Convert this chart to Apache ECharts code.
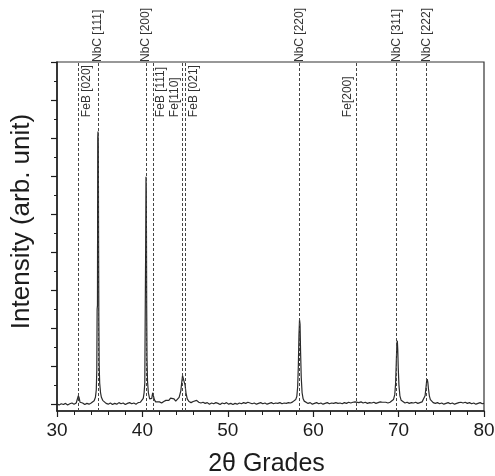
<!DOCTYPE html>
<html>
<head>
<meta charset="utf-8">
<script src="https://cdn.jsdelivr.net/npm/echarts@6/dist/echarts.min.js"></script>
<style>html,body{margin:0;padding:0;background:#fff;}#c{width:495px;height:476px;}</style>
</head>
<body>
<div id="c"></div>
<script>
// ---- data ----
const twoTheta = [
  30.0, 30.25, 30.5, 30.75, 31.0, 31.25, 31.5, 31.75, 32.0, 32.25,
  32.4, 32.5, 32.6, 32.7, 32.85, 33.0, 33.25, 33.5, 33.75, 34.0,
  34.2, 34.35, 34.5, 34.6, 34.66, 34.7, 34.74, 34.77, 34.8, 34.84,
  34.87, 34.9, 34.94, 35.0, 35.1, 35.2, 35.35, 35.5, 35.75, 36.0,
  36.25, 36.5, 36.75, 37.0, 37.25, 37.5, 37.75, 38.0, 38.25, 38.5,
  38.75, 39.0, 39.25, 39.5, 39.75, 39.95, 40.1, 40.2, 40.28, 40.34,
  40.38, 40.42, 40.46, 40.5, 40.54, 40.6, 40.7, 40.85, 41.0, 41.1,
  41.2, 41.28, 41.4, 41.55, 41.75, 42.0, 42.25, 42.5, 42.75, 42.9,
  43.1, 43.3, 43.5, 43.7, 43.9, 44.1, 44.3, 44.5, 44.62, 44.7,
  44.8, 44.9, 45.0, 45.1, 45.25, 45.45, 45.7, 45.95, 46.15, 46.35,
  46.6, 46.85, 47.1, 47.35, 47.6, 47.85, 48.1, 48.35, 48.6, 48.85,
  49.1, 49.35, 49.6, 49.85, 50.1, 50.35, 50.6, 50.85, 51.1, 51.35,
  51.6, 51.85, 52.1, 52.35, 52.6, 52.85, 53.1, 53.35, 53.6, 53.85,
  54.1, 54.35, 54.6, 54.85, 55.1, 55.35, 55.6, 55.85, 56.1, 56.35,
  56.6, 56.85, 57.1, 57.35, 57.6, 57.8, 57.95, 58.08, 58.18, 58.26,
  58.33, 58.4, 58.46, 58.52, 58.6, 58.7, 58.82, 58.95, 59.15, 59.4,
  59.65, 59.9, 60.15, 60.4, 60.65, 60.9, 61.15, 61.4, 61.65, 61.9,
  62.15, 62.4, 62.65, 62.9, 63.15, 63.4, 63.65, 63.9, 64.15, 64.4,
  64.65, 64.9, 65.1, 65.35, 65.6, 65.85, 66.1, 66.35, 66.6, 66.85,
  67.1, 67.35, 67.6, 67.85, 68.1, 68.3, 68.5, 68.75, 69.0, 69.2,
  69.4, 69.55, 69.65, 69.73, 69.8, 69.85, 69.9, 69.96, 70.04, 70.15,
  70.3, 70.5, 70.75, 71.0, 71.25, 71.5, 71.75, 72.0, 72.25, 72.5,
  72.75, 72.95, 73.1, 73.2, 73.28, 73.35, 73.42, 73.5, 73.6, 73.72,
  73.85, 74.05, 74.3, 74.55, 74.8, 75.05, 75.3, 75.55, 75.8, 76.05,
  76.3, 76.55, 76.8, 77.05, 77.3, 77.55, 77.8, 78.05, 78.3, 78.55,
  78.8, 79.05, 79.3, 79.55, 79.8, 80.0
];
const intensity = [
  0.00, -0.02, 0.01, -0.01, 0.02, -0.02, 0.01, 0.03, 0.00, 0.03,
  0.06, 0.22, 0.16, 0.05, 0.01, 0.03, -0.01, 0.02, 0.00, 0.03,
  0.05, 0.09, 0.18, 0.38, 0.9, 2.5, 2.6, 7.0, 7.17, 6.8,
  4.2, 2.2, 1.0, 0.55, 0.3, 0.18, 0.1, 0.05, 0.02, 0.0,
  0.03, -0.01, 0.02, 0.0, 0.04, 0.01, 0.03, -0.01, 0.02, 0.04,
  0.01, 0.03, 0.0, 0.04, 0.05, 0.08, 0.15, 0.3, 0.55, 2.7,
  4.0, 5.98, 5.6, 2.6, 1.2, 0.6, 0.3, 0.14, 0.1, 0.15,
  0.3, 0.26, 0.12, 0.06, 0.04, 0.06, 0.03, 0.07, 0.1, 0.07,
  0.1, 0.16, 0.18, 0.14, 0.08, 0.1, 0.18, 0.35, 0.6, 0.75,
  0.72, 0.58, 0.5, 0.3, 0.14, 0.07, 0.04, 0.07, 0.12, 0.1,
  0.05, 0.03, 0.05, 0.02, 0.04, 0.0, 0.03, 0.01, 0.04, 0.02,
  -0.01, 0.03, 0.01, 0.04, 0.0, 0.02, -0.01, 0.02, 0.0, 0.03,
  0.01, 0.04, 0.02, 0.05, 0.03, 0.01, 0.03, 0.0, 0.02, 0.04,
  0.01, 0.03, 0.0, 0.02, 0.04, 0.01, 0.03, 0.02, 0.04, 0.01,
  0.03, 0.02, 0.04, 0.03, 0.06, 0.08, 0.12, 0.2, 0.45, 1.0,
  1.8, 2.22, 2.1, 1.4, 0.7, 0.3, 0.14, 0.08, 0.05, 0.02,
  0.04, 0.0, 0.02, 0.04, 0.01, 0.03, 0.0, 0.02, 0.04, 0.01,
  0.03, 0.02, 0.04, 0.02, 0.03, 0.01, 0.04, 0.02, 0.05, 0.03,
  0.05, 0.06, 0.07, 0.04, 0.06, 0.03, 0.05, 0.02, 0.04, 0.03,
  0.05, 0.02, 0.04, 0.06, 0.05, 0.08, 0.05, 0.03, 0.05, 0.07,
  0.12, 0.25, 0.55, 1.1, 1.6, 1.67, 1.45, 0.95, 0.5, 0.22,
  0.1, 0.05, 0.03, 0.05, 0.02, 0.04, 0.03, 0.05, 0.02, 0.04,
  0.06, 0.1, 0.22, 0.42, 0.6, 0.66, 0.58, 0.4, 0.22, 0.12,
  0.07, 0.04, 0.02, 0.04, 0.01, 0.03, 0.0, 0.02, 0.04, 0.01,
  0.03, 0.0, 0.02, 0.04, 0.05, 0.03, 0.05, 0.02, 0.04, 0.01,
  0.03, 0.0, 0.02, 0.04, 0.01, 0.02
];
// NbC reflections (labels above the frame)
const nbcPositions = [34.8, 40.44, 58.39, 69.77, 73.27];
const nbcLabels = ['NbC [111]', 'NbC [200]', 'NbC [220]', 'NbC [311]', 'NbC [222]'];
// Fe / FeB reflections (labels inside the frame)
const phasePositions = [32.5, 41.26, 44.72, 45.03, 65.01];
const phaseLabels = ['FeB [020]', 'FeB [111]', 'Fe[110]', 'FeB [021]', 'Fe[200]'];
const phaseSides = ['right', 'right', 'left', 'right', 'left'];
// axes
const xMin = 30, xMax = 80, xStep = 10;
const yMin = -0.18, yMax = 9;
const yMajorTicks = [0, 1, 2, 3, 4, 5, 6, 7, 8, 9];
const yMinorTicks = [0.5, 1.5, 2.5, 3.5, 4.5, 5.5, 6.5, 7.5, 8.5];
const labelBase = 7.55;

const FONT = '"Liberation Sans", Arial, Helvetica, sans-serif';
const INK = '#1c1c1c';

const scan = twoTheta.map((x, i) => [x, intensity[i]]);
const allRefs = nbcPositions.concat(phasePositions);

const refLineItems = allRefs.map(v => ({xAxis: v}));
const labelItems = phasePositions.map((v, i) => [
  {coord: [v, labelBase], name: phaseLabels[i],
   lineStyle: {color: 'rgba(0,0,0,0)', opacity: 1},
   label: {show: true, formatter: '{b}', opacity: 1,
           position: phaseSides[i] === 'right' ? 'insideStartBottom' : 'insideStartTop',
           distance: [0, 2], fontFamily: FONT, fontSize: 12, color: '#333'}},
  {coord: [v, yMax]}
]);

const chart = echarts.init(document.getElementById('c'), null, {renderer: 'canvas'});
chart.setOption({
  animation: false,
  backgroundColor: '#fff',
  grid: {left: 57, right: 11, top: 62, bottom: 65, outerBoundsMode: 'none', containLabel: false,
         show: true, borderColor: '#333', borderWidth: 1.2, backgroundColor: 'transparent'},
  xAxis: [{
    type: 'value', min: xMin, max: xMax, interval: xStep,
    name: '2\u03b8 Grades', nameLocation: 'middle', nameGap: 41,
    nameTextStyle: {fontFamily: FONT, fontSize: 25, color: INK, padding: [0, 8, 0, 0]},
    axisLine: {show: true, onZero: false, lineStyle: {color: INK, width: 1.5}},
    axisTick: {show: true, inside: false, length: 6, lineStyle: {color: INK, width: 1.2}},
    minorTick: {show: true, splitNumber: 5, length: 4, lineStyle: {color: INK, width: 1}},
    axisLabel: {fontFamily: FONT, fontSize: 19, color: INK, margin: 10},
    splitLine: {show: false}
  }, {
    type: 'value', min: xMin, max: xMax, position: 'top',
    axisLine: {show: false}, axisTick: {show: false}, splitLine: {show: false},
    axisLabel: {
      show: true, customValues: nbcPositions, rotate: 90, margin: 0,
      fontFamily: FONT, fontSize: 12, color: '#333',
      formatter: v => { const i = nbcPositions.findIndex(p => Math.abs(p - v) < 1e-6); return i >= 0 ? nbcLabels[i] : ''; }
    }
  }],
  yAxis: [{
    type: 'value', min: yMin, max: yMax,
    name: 'Intensity (arb. unit)', nameLocation: 'middle', nameGap: 22,
    nameTextStyle: {fontFamily: FONT, fontSize: 26, color: INK, padding: [0, 0, 0, 30]},
    axisLine: {show: true, onZero: false, lineStyle: {color: INK, width: 1.5}},
    axisTick: {show: true, inside: false, length: 6, customValues: yMajorTicks, lineStyle: {color: INK, width: 1.2}},
    axisLabel: {show: false},
    splitLine: {show: false}
  }, {
    type: 'value', min: yMin, max: yMax, position: 'left', offset: 0,
    axisLine: {show: false},
    axisTick: {show: true, inside: false, length: 3, customValues: yMinorTicks, lineStyle: {color: INK, width: 1}},
    axisLabel: {show: false},
    splitLine: {show: false}
  }],
  series: [{
    type: 'line', data: scan, showSymbol: false, symbol: 'none',
    lineStyle: {color: '#2a2a2a', width: 1.2}, silent: true, z: 3,
    markLine: {
      silent: true, symbol: ['none', 'none'], animation: false,
      lineStyle: {color: '#444', width: 1, type: [3, 2]},
      label: {show: false},
      data: refLineItems.concat(labelItems)
    }
  }]
});
</script>
</body>
</html>
